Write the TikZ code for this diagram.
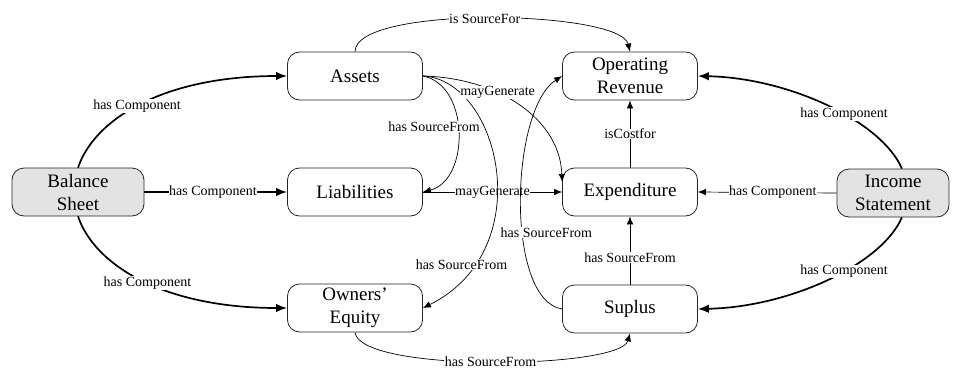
\documentclass[tikz,border=0pt]{standalone}
\usepackage{fontspec}
\setmainfont{Liberation Serif}
\usetikzlibrary{arrows.meta}
\begin{document}
\begin{tikzpicture}[x=1pt,y=-1pt,
  box/.style={draw=black!85, line width=0.8pt, rounded corners=12pt, minimum width=135pt, minimum height=48pt, align=center, font=\fontsize{19}{23}\selectfont, inner sep=2pt},
  gbox/.style={box, fill=black!11},
  lnk/.style={draw, line width=0.7pt, -{Latex[length=8pt,width=6.5pt]}},
  thk/.style={draw, line width=1.7pt, -{Latex[length=11pt,width=8.5pt]}},
  lbl/.style={font=\fontsize{14}{16}\selectfont, fill=white, inner sep=0.5pt}
]
\useasboundingbox (0,0) rectangle (961,372);

\node[gbox, minimum width=132pt] (bs) at (78,192) {Balance\\Sheet};
\node[box] (as) at (355,76) {Assets};
\node[box] (or) at (630,76) {Operating\\Revenue};
\node[box] (li) at (355,192) {Liabilities};
\node[box] (ex) at (630,192) {Expenditure};
\node[box] (oe) at (355,308) {Owners'\\Equity};
\node[box] (su) at (630,309) {Suplus};
\node[gbox, minimum width=112pt] (is) at (893,193) {Income\\Statement};

% Balance sheet components
\draw[thk] (bs.north) .. controls (95,118) and (165,76) .. (as.west) node[lbl,pos=0.47]{has Component};
\draw[thk] (bs.east) -- (li.west) node[lbl,pos=0.48]{has Component};
\draw[thk] (bs.south) .. controls (95,266) and (165,308) .. (oe.west) node[lbl,pos=0.52]{has Component};

% Income statement components
\draw[thk] (is.70) .. controls (882,122) and (790,78) .. (or.east) node[lbl,pos=0.42]{has Component};
\draw[lnk] (is.west) -- (ex.east) node[lbl,pos=0.46]{has Component};
\draw[thk] (is.-70) .. controls (882,264) and (790,307) .. (su.east) node[lbl,pos=0.42]{has Component};

% top arc
\draw[lnk] (as.north) .. controls (355,5) and (620,10) .. (or.north) node[lbl,pos=0.49]{is SourceFor};

% verticals
\draw[lnk] (ex.north) -- (or.south) node[lbl,pos=0.5]{isCostfor};
\draw[lnk] (su.north) -- (ex.south) node[lbl,pos=0.4]{has SourceFrom};

% middle web
\draw[lnk] (li.east) -- (ex.west) node[lbl,pos=0.5]{mayGenerate};
\draw[lnk] (as.east) .. controls (470,85) and (470,180) .. (li.east) node[lbl,pos=0.46,xshift=-24pt]{has SourceFrom};
\draw[lnk] (as.east) .. controls (500,80) and (540,250) .. (oe.east) node[lbl,pos=0.81,xshift=-12pt]{has SourceFrom};
\draw[lnk] (su.west) .. controls (505,300) and (510,110) .. (or.west) node[lbl,pos=0.4,xshift=24pt]{has SourceFrom};
\draw[lnk] (as.east) .. controls (500,78) and (560,120) .. ([yshift=10pt]ex.west) node[lbl,pos=0.36]{mayGenerate};

% bottom arc
\draw[lnk] (oe.south) .. controls (360,373) and (620,369) .. (su.south) node[lbl,pos=0.5]{has SourceFrom};
\end{tikzpicture}
\end{document}
